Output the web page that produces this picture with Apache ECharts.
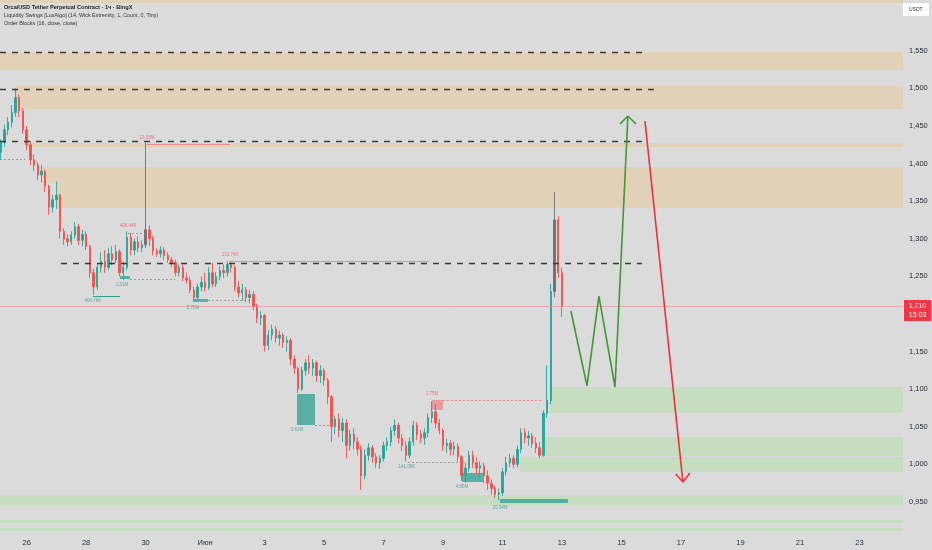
<!DOCTYPE html>
<html><head><meta charset="utf-8">
<script src="https://cdn.jsdelivr.net/npm/echarts@6/dist/echarts.min.js"></script>
<style>html,body{margin:0;padding:0;background:#dadada}#c{width:932px;height:550px}</style>
</head><body><div id="c"></div>
<script>
// ---------- data ----------
const dayTicks  = [0,48,96,144,192,240,288,336,384,432,480,528,576,624,672]; // hours from 26 May 00:00
const dayLabels = ['26','28','30','Июн','3','5','7','9','11','13','15','17','19','21','23'];
const priceTicks = [0.95,1.0,1.05,1.1,1.15,1.25,1.3,1.35,1.4,1.45,1.5,1.55];
const firstHour = -21, stepHours = 3;          // 3h candles
// [open, close, low, high]
const ohlc = [
[1.415,1.428,1.405,1.432],[1.428,1.445,1.422,1.452],[1.445,1.455,1.438,1.462],[1.455,1.468,1.448,1.478],
[1.468,1.488,1.462,1.500],[1.488,1.470,1.462,1.492],[1.470,1.445,1.440,1.474],[1.445,1.425,1.418,1.450],
[1.425,1.405,1.398,1.430],[1.405,1.398,1.390,1.412],[1.398,1.385,1.378,1.402],[1.385,1.390,1.375,1.398],
[1.390,1.370,1.362,1.392],[1.370,1.342,1.332,1.372],[1.342,1.352,1.335,1.358],[1.352,1.358,1.340,1.376],
[1.358,1.310,1.300,1.360],[1.310,1.300,1.292,1.314],[1.300,1.296,1.290,1.306],[1.296,1.305,1.292,1.310],
[1.305,1.316,1.300,1.322],[1.316,1.298,1.292,1.320],[1.298,1.306,1.290,1.312],[1.306,1.290,1.285,1.310],
[1.290,1.255,1.248,1.292],[1.255,1.236,1.225,1.260],[1.236,1.262,1.232,1.268],[1.262,1.270,1.255,1.282],
[1.270,1.262,1.255,1.285],[1.262,1.280,1.258,1.288],[1.280,1.272,1.265,1.290],[1.272,1.283,1.268,1.292],
[1.283,1.255,1.250,1.286],[1.255,1.262,1.245,1.270],[1.262,1.302,1.258,1.310],[1.302,1.285,1.278,1.308],
[1.285,1.296,1.278,1.300],[1.296,1.288,1.282,1.303],[1.288,1.292,1.282,1.298],[1.292,1.312,1.288,1.428],
[1.312,1.300,1.290,1.318],[1.300,1.284,1.278,1.304],[1.284,1.280,1.276,1.288],[1.280,1.285,1.275,1.290],
[1.285,1.278,1.272,1.289],[1.278,1.272,1.268,1.282],[1.272,1.268,1.262,1.276],[1.268,1.255,1.250,1.272],
[1.255,1.262,1.250,1.266],[1.262,1.248,1.244,1.266],[1.248,1.245,1.240,1.255],[1.245,1.232,1.228,1.250],
[1.232,1.222,1.218,1.236],[1.222,1.236,1.219,1.240],[1.236,1.242,1.230,1.250],[1.242,1.235,1.230,1.255],
[1.235,1.255,1.232,1.262],[1.255,1.240,1.236,1.268],[1.240,1.250,1.236,1.256],[1.250,1.258,1.245,1.264],
[1.258,1.255,1.248,1.266],[1.255,1.266,1.250,1.270],[1.266,1.262,1.255,1.270],[1.262,1.236,1.230,1.265],
[1.236,1.228,1.222,1.244],[1.228,1.232,1.218,1.240],[1.232,1.222,1.216,1.236],[1.222,1.226,1.214,1.232],
[1.226,1.210,1.205,1.230],[1.210,1.195,1.188,1.214],[1.195,1.198,1.185,1.204],[1.198,1.158,1.150,1.200],
[1.158,1.172,1.152,1.178],[1.172,1.180,1.165,1.186],[1.180,1.168,1.162,1.184],[1.168,1.172,1.158,1.178],
[1.172,1.162,1.155,1.175],[1.162,1.165,1.150,1.170],[1.165,1.140,1.132,1.168],[1.140,1.128,1.120,1.145],
[1.128,1.100,1.095,1.130],[1.100,1.125,1.098,1.130],[1.125,1.135,1.118,1.140],[1.135,1.128,1.120,1.145],
[1.128,1.135,1.118,1.140],[1.135,1.118,1.110,1.138],[1.118,1.125,1.108,1.132],[1.125,1.112,1.105,1.128],
[1.112,1.090,1.080,1.115],[1.090,1.050,1.030,1.092],[1.050,1.060,1.040,1.065],[1.060,1.045,1.036,1.068],
[1.045,1.055,1.030,1.062],[1.055,1.025,1.008,1.060],[1.025,1.040,1.018,1.046],[1.040,1.030,1.020,1.048],
[1.030,1.020,1.012,1.036],[1.020,0.985,0.966,1.025],[0.985,1.012,0.980,1.020],[1.012,1.022,1.005,1.028],
[1.022,1.010,1.002,1.026],[1.010,1.002,0.995,1.015],[1.002,1.008,0.994,1.012],[1.008,1.025,1.004,1.030],
[1.025,1.030,1.018,1.036],[1.030,1.045,1.024,1.050],[1.045,1.052,1.038,1.060],[1.052,1.035,1.028,1.056],
[1.035,1.025,1.018,1.040],[1.025,1.012,1.004,1.030],[1.012,1.030,1.008,1.036],[1.030,1.052,1.025,1.058],
[1.052,1.040,1.032,1.056],[1.040,1.035,1.028,1.046],[1.035,1.042,1.026,1.048],[1.042,1.062,1.036,1.068],
[1.062,1.070,1.055,1.084],[1.070,1.055,1.048,1.080],[1.055,1.045,1.040,1.060],[1.045,1.025,1.018,1.048],
[1.025,1.028,1.015,1.034],[1.028,1.020,1.012,1.032],[1.020,1.024,1.012,1.030],[1.024,1.010,1.004,1.028],
[1.010,0.985,0.978,1.012],[0.985,0.995,0.976,1.002],[0.995,1.012,0.990,1.018],[1.012,1.002,0.995,1.018],
[1.002,0.995,0.985,1.010],[0.995,0.998,0.982,1.004],[0.998,0.985,0.975,1.002],[0.985,0.975,0.966,0.992],
[0.975,0.968,0.960,0.980],[0.968,0.960,0.955,0.972],[0.960,0.962,0.952,0.968],[0.962,0.990,0.958,0.995],
[0.990,1.002,0.985,1.010],[1.002,1.008,0.996,1.014],[1.008,1.000,0.995,1.012],[1.000,1.020,0.996,1.025],
[1.020,1.042,1.015,1.048],[1.042,1.035,1.028,1.048],[1.035,1.038,1.025,1.044],[1.038,1.028,1.022,1.042],
[1.028,1.022,1.015,1.036],[1.022,1.012,1.008,1.030],[1.012,1.068,1.010,1.072],[1.068,1.085,1.062,1.132],
[1.085,1.230,1.080,1.240],[1.230,1.325,1.222,1.362],[1.325,1.255,1.248,1.330],[1.255,1.210,1.196,1.262]
];
const grayCandles = [39, 149];
const lastPrice = 1.210, countdown = '15:03';
const xMin = -21.5, xMax = 707.2, yMin = 0.9074, yMax = 1.6176;

// zones: [startHour, endHour, top, bottom]
const supplyZones = [
  [-21.5, 707.2, 1.6176, 1.6136],
  [-21.5, 707.2, 1.5484, 1.5245],
  [-9.4, 707.2, 1.5032, 1.4726],
  [0, 707.2, 1.4274, 1.4221],
  [13, 707.2, 1.3955, 1.3742],
  [25, 707.2, 1.3742, 1.3410]
];
const demandZones = [
  [422.3, 707.2, 1.1029, 1.0686],
  [416.6, 707.2, 1.0364, 1.0113],
  [398.0, 707.2, 1.0098, 0.9899],
  [-21.5, 707.2, 0.9593, 0.9452],
  [-21.5, 707.2, 0.9261, 0.9221],
  [-21.5, 707.2, 0.9155, 0.9115]
];
const bullBlocks = [
  [75.3, 83.3, 1.2505, 1.2465],
  [134.2, 146.3, 1.2200, 1.2160],
  [218.2, 232.7, 1.0936, 1.0524],
  [351.3, 368.2, 0.9886, 0.9766],
  [382.0, 436.8, 0.9539, 0.9487]
];
const bearBlocks = [[327.1, 335.9, 1.0856, 1.0723]];
// levels: [startHour, endHour, price]
const dashedLevels = [[-21.5, 499, 1.5484], [-21.5, 507, 1.4992], [-21.5, 496.5, 1.4300], [27.7, 496.5, 1.2680]];
const redSwingLines = [[97.1, 164.1, 1.4261], [164.2, 325.4, 1.2700]];
const redDottedLines = [[81.8, 97.1, 1.3077], [335.9, 416.7, 1.0856]];
const greenSwingLines = [[53.5, 75.3, 1.2239]];
const grayDottedLines = [[83.4, 119.7, 1.2465], [146.3, 180.2, 1.2180], [232.7, 244.8, 1.0524], [307.7, 348, 1.0032], [-21.5, -1.4, 1.4061]];
// swing labels: [hour, price, text]
const redLabels = [[97.1, 1.4341, '13.08M'], [81.9, 1.3170, '406.44K'], [164.2, 1.2785, '131.74K'], [327.1, 1.0936, '1.75M']];
const greenLabels = [[53.5, 1.2173, '406.76K'], [77.0, 1.2386, '1.51M'], [134.2, 1.2080, '2.70M'], [218.2, 1.0457, '3.61M'],
                     [306.9, 0.9966, '141.06K'], [351.3, 0.9699, '4.56M'], [382.0, 0.9420, '20.34M']];
// projected paths
const bullPath = [[439.2, 1.2040], [452.2, 1.1043], [461.8, 1.2239], [474.8, 1.1029], [485.2, 1.4633]];
const bullHead = [[478.8, 1.4527], [485.2, 1.4633], [491.7, 1.4527]];
const bearPath = [[499.0, 1.4566], [529.6, 0.9766]];
const bearHead = [[523.8, 0.9872], [529.6, 0.9766], [535.3, 0.9886]];

// ---------- chart ----------
const UP = '#26a69a', DOWN = '#ef5350';
const hours = ohlc.map((_, i) => firstHour + i * stepHours);
const candleData = ohlc.map((d, i) => {
  const item = { value: [hours[i], d[0], d[1], d[2], d[3]] };
  if (grayCandles.indexOf(i) >= 0) item.itemStyle = { color: '#707070', color0: '#707070', borderColor: '#707070', borderColor0: '#707070' };
  return item;
});
const areaItems = (list, color) => list.map(z => [
  { coord: [z[0], z[2]], itemStyle: { color: color, borderWidth: 0 } },
  { coord: [z[1], z[3]] }
]);
const lineItems = (list, style) => list.map(l => [
  { coord: [l[0], l[2]], lineStyle: style },
  { coord: [l[1], l[2]], lineStyle: style }
]);
const fmtPrice = v => v.toFixed(3).replace('.', ',');

const chart = echarts.init(document.getElementById('c'), null, { renderer: 'canvas' });
chart.setOption({
  backgroundColor: '#dbdbdb',
  animation: false,
  textStyle: { fontFamily: "'Liberation Sans', Arial, sans-serif" },
  grid: { left: 0, right: 29, top: 0, bottom: 16 },
  xAxis: {
    type: 'value', min: xMin, max: xMax,
    axisLine: { show: false }, axisTick: { show: false }, splitLine: { show: false },
    axisLabel: { customValues: dayTicks, formatter: v => dayLabels[dayTicks.indexOf(v)], fontSize: 7.5, color: '#2a2e39', margin: 5, showMinLabel: true, showMaxLabel: true }
  },
  yAxis: {
    type: 'value', position: 'right', min: yMin, max: yMax, scale: true,
    axisLine: { show: false }, axisTick: { show: false }, splitLine: { show: false },
    axisLabel: { customValues: priceTicks, formatter: fmtPrice, fontSize: 7.5, color: '#2a2e39', margin: 6 }
  },
  graphic: [
    { type: 'text', left: 4, top: 4, style: { text: 'Orca/USD Tether Perpetual Contract · 1ч · BingX', fontSize: 5.6, fontWeight: 'bold', fill: '#1e1e1e', fontFamily: "'Liberation Sans', Arial, sans-serif" } },
    { type: 'text', left: 4, top: 13, style: { text: 'Liquidity Swings [LuxAlgo] (14, Wick Extremity, 1, Count, 0, Tiny)', fontSize: 5.4, fill: '#333', fontFamily: "'Liberation Sans', Arial, sans-serif" } },
    { type: 'text', left: 4, top: 21.5, style: { text: 'Order Blocks (16, close, close)', fontSize: 5.4, fill: '#333', fontFamily: "'Liberation Sans', Arial, sans-serif" } },
    { type: 'rect', left: 903, top: 3, shape: { width: 26, height: 13, r: 1 }, style: { fill: '#ffffff' } },
    { type: 'text', left: 909, top: 7, style: { text: 'USDT', fontSize: 5, fill: '#333', fontFamily: "'Liberation Sans', Arial, sans-serif" } }
  ],
  series: [
    {
      name: 'zones', type: 'line', data: [], z: 1, silent: true,
      markArea: { silent: true, label: { show: false },
        data: [].concat(
          areaItems(supplyZones, 'rgba(240,190,115,0.32)'),
          areaItems(demandZones, 'rgba(160,228,140,0.32)'),
          areaItems(bullBlocks, 'rgba(38,160,140,0.72)'),
          areaItems(bearBlocks, 'rgba(240,110,120,0.6)')
        ) }
    },
    {
      name: 'levels', type: 'line', data: [], z: 2, silent: true,
      markLine: { silent: true, symbol: ['none', 'none'], label: { show: false },
        data: [].concat(
          lineItems(dashedLevels, { color: '#3b3b3b', width: 1.4, type: [6, 6] }),
          lineItems(redSwingLines, { color: '#ec7a80', width: 0.8, type: 'solid' }),
          lineItems(redDottedLines, { color: '#ec6b72', width: 0.8, type: [2, 2] }),
          lineItems(greenSwingLines, { color: '#2f9c84', width: 1, type: 'solid' }),
          lineItems(grayDottedLines, { color: '#8a8a8a', width: 0.8, type: [2, 2] })
        ) }
    },
    {
      name: 'OHLC', type: 'candlestick', z: 3, barWidth: 1.9,
      encode: { x: 0, y: [1, 2, 3, 4] },
      itemStyle: { color: UP, color0: DOWN, borderColor: UP, borderColor0: DOWN, borderWidth: 0.9 },
      data: candleData
    },
    {
      name: 'lastPrice', type: 'line', z: 4, clip: false, showSymbol: false, symbol: 'none',
      data: [[hours[hours.length - 1], lastPrice]], lineStyle: { opacity: 0 },
      markLine: { silent: true, symbol: ['none', 'none'], label: { show: false },
        lineStyle: { color: '#e88c94', width: 1, type: 'solid', opacity: 0.6 },
        data: [{ yAxis: lastPrice }] },
      markPoint: { silent: true, symbol: 'rect', symbolSize: [27, 21], symbolOffset: [14.5, 4],
        itemStyle: { color: '#f23645' },
        label: { show: true, position: 'inside', color: '#fff', fontSize: 7, lineHeight: 9,
          formatter: () => fmtPrice(lastPrice) + '\n' + countdown },
        data: [{ coord: [xMax, lastPrice] }] }
    },
    {
      name: 'redLabels', type: 'scatter', z: 4, symbolSize: 0, silent: true,
      data: redLabels,
      label: { show: true, position: 'inside', formatter: p => p.data[2], fontSize: 4.5, color: '#e0606a' }
    },
    {
      name: 'greenLabels', type: 'scatter', z: 4, symbolSize: 0, silent: true,
      data: greenLabels,
      label: { show: true, position: 'inside', formatter: p => p.data[2], fontSize: 4.5, color: '#3a9a84' }
    },
    { name: 'bull', type: 'line', z: 5, symbol: 'none', data: bullPath, lineStyle: { color: '#3f9a35', width: 1.6 } },
    { name: 'bullHead', type: 'line', z: 5, symbol: 'none', data: bullHead, lineStyle: { color: '#3f9a35', width: 1.6 } },
    { name: 'bear', type: 'line', z: 5, symbol: 'none', data: bearPath, lineStyle: { color: '#ea3340', width: 1.6 } },
    { name: 'bearHead', type: 'line', z: 5, symbol: 'none', data: bearHead, lineStyle: { color: '#ea3340', width: 1.6 } }
  ]
});
</script>
</body></html>
